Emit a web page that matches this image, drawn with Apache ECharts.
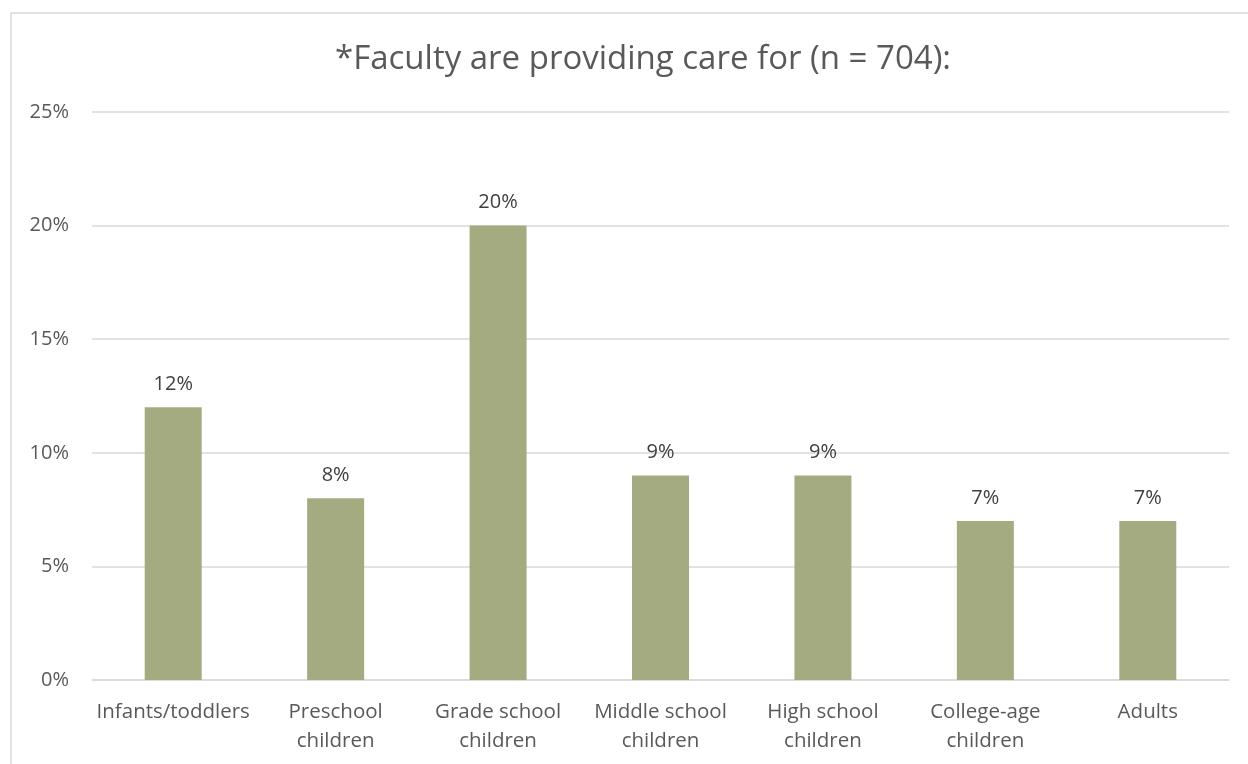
<!DOCTYPE html>
<html>
<head>
    <meta charset="utf-8">
    <script src="https://cdn.jsdelivr.net/npm/echarts@6/dist/echarts.min.js"></script>
    <style>
        html, body { margin: 0; padding: 0; background: #fff; }
    </style>
</head>
<body>
<div id="main" style="width: 1248px;height:764px;"></div>
<script type="text/javascript">
    var categories = ['Infants/toddlers', 'Preschool\nchildren', 'Grade school\nchildren', 'Middle school\nchildren',
        'High school\nchildren', 'College-age\nchildren', 'Adults'];
    var values = [12, 8, 20, 9, 9, 7, 7];
    var yTicks = [0, 5, 10, 15, 20, 25];

    var chart = echarts.init(document.getElementById('main'));
    var font = '"Open Sans", Lato, sans-serif';

    var option = {
        backgroundColor: '#fff',
        animation: false,
        title: {
            text: '*Faculty are providing care for (n = 704):',
            left: 330,
            top: 38,
            textStyle: {
                fontFamily: font,
                fontSize: 33,
                fontWeight: 'normal',
                color: '#595959'
            }
        },
        graphic: [{
            type: 'rect',
            shape: { x: 11, y: 13, width: 1400, height: 900 },
            style: { fill: 'none', stroke: '#d9d9d9', lineWidth: 1.5 },
            silent: true
        }],
        grid: {
            left: 92,
            right: 19,
            top: 112,
            bottom: 84
        },
        xAxis: {
            type: 'category',
            data: categories,
            axisLine: { lineStyle: { color: '#d9d9d9', width: 1.5 } },
            axisTick: { show: false },
            axisLabel: {
                fontFamily: font,
                fontSize: 20.5,
                color: '#595959',
                lineHeight: 29,
                margin: 18,
                interval: 0
            }
        },
        yAxis: {
            type: 'value',
            min: yTicks[0],
            max: yTicks[yTicks.length - 1],
            interval: 5,
            axisLine: { show: false },
            axisTick: { show: false },
            splitLine: { lineStyle: { color: '#d9d9d9', width: 1.5 } },
            axisLabel: {
                fontFamily: font,
                fontSize: 20,
                color: '#595959',
                margin: 23,
                formatter: '{value}%'
            }
        },
        series: [{
            type: 'bar',
            data: values,
            barWidth: 57,
            itemStyle: { color: '#a5ab80' },
            label: {
                show: true,
                position: 'top',
                distance: 13,
                fontFamily: font,
                fontSize: 20,
                color: '#404040',
                formatter: '{c}%'
            }
        }]
    };
    chart.setOption(option);
</script>
</body>
</html>
